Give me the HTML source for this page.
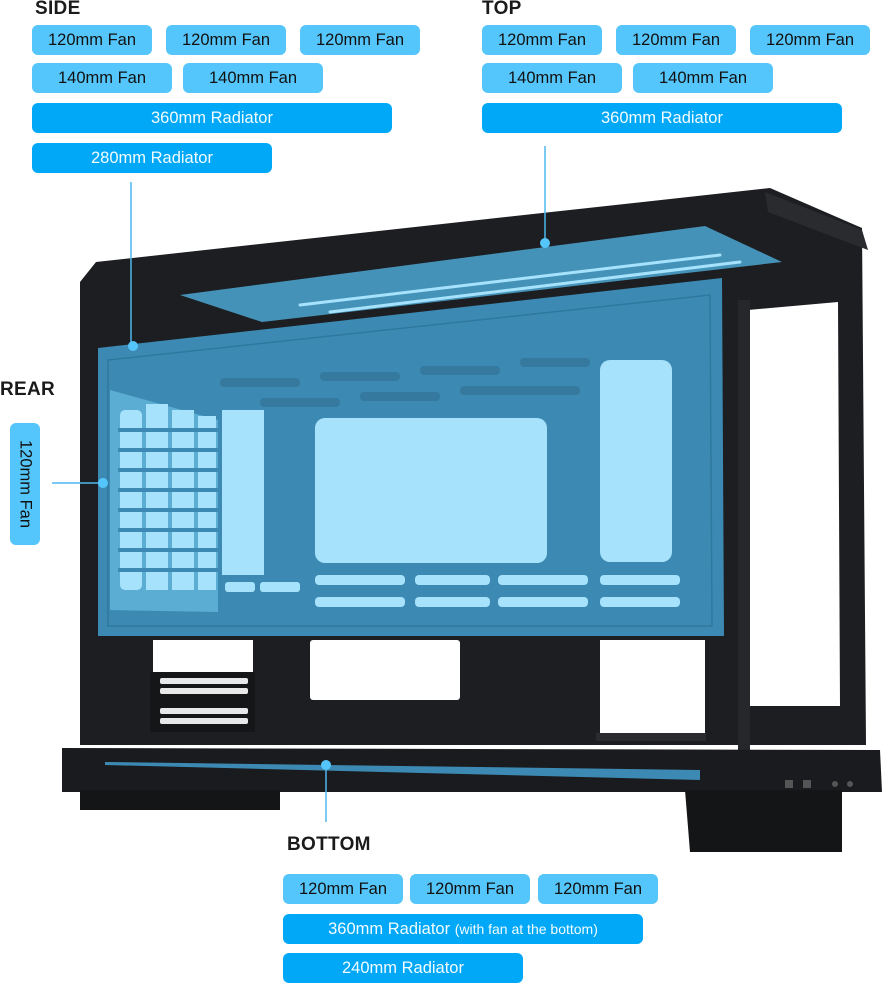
<!DOCTYPE html>
<html><head><meta charset="utf-8"><style>
body{margin:0;width:895px;height:984px;background:#fff;position:relative;overflow:hidden;font-family:"Liberation Sans",sans-serif}
.h{position:absolute;font-weight:bold;font-size:19px;color:#1a1a1a;letter-spacing:0.3px}
.p{position:absolute;height:30px;line-height:30px;border-radius:6px;text-align:center;font-size:16.5px;color:#111;background:#55c6fb}
.d{background:#00a8f7;color:#f2fbff}
svg{position:absolute;left:0;top:0}
</style></head><body>
<svg width="895" height="984" viewBox="0 0 895 984">
<!-- case body -->
<polygon points="80,282 96,262 770,188 862,228 866,745 80,745" fill="#1d1e21"/>
<polygon points="765,192 862,230 868,250 768,212" fill="#2a2b2e"/>
<!-- right window -->
<polygon points="748,310 838,302 840,706 748,706" fill="#fff"/>
<rect x="738" y="300" width="12" height="450" fill="#26272a"/>
<!-- lower openings -->
<rect x="310" y="640" width="150" height="60" rx="3" fill="#fff"/>
<rect x="600" y="640" width="105" height="95" fill="#fff"/>
<rect x="596" y="733" width="110" height="8" fill="#2a2b2e"/>
<rect x="153" y="640" width="100" height="35" fill="#fff"/>
<rect x="150" y="672" width="105" height="60" fill="#151618"/>
<g fill="#e8e8e8"><rect x="160" y="678" width="88" height="6" rx="2"/><rect x="160" y="688" width="88" height="6" rx="2"/><rect x="160" y="708" width="88" height="6" rx="2"/><rect x="160" y="718" width="88" height="6" rx="2"/></g>
<!-- top panel translucent -->
<polygon points="180,295 705,226 782,262 262,322" fill="#4a9fc9" opacity="0.9"/>
<g stroke="#a6e2fb" stroke-width="3" stroke-linecap="round"><line x1="300" y1="305" x2="720" y2="255"/><line x1="330" y1="312" x2="740" y2="262"/></g>
<!-- side panel -->
<polygon points="98,348 722,278 724,636 98,636" fill="#3c8ab3"/>
<polygon points="108,360 710,295 712,626 108,626" fill="none" stroke="#2f789f" stroke-width="1.5"/>
<rect x="315" y="418" width="232" height="145" rx="10" fill="#a6e2fb"/>
<rect x="600" y="360" width="72" height="202" rx="10" fill="#a6e2fb"/>
<rect x="222" y="410" width="42" height="165" fill="#a6e2fb"/>
<polygon points="110,390 218,420 218,612 110,610" fill="#5fb0d6" opacity="0.9"/>
<g fill="#a6e2fb">
<rect x="120" y="410" width="22" height="180" rx="5"/>
<rect x="146" y="404" width="22" height="186" />
<rect x="172" y="410" width="22" height="180"/>
<rect x="198" y="416" width="18" height="174"/>
<rect x="315" y="575" width="90" height="10" rx="4"/><rect x="415" y="575" width="75" height="10" rx="4"/><rect x="498" y="575" width="90" height="10" rx="4"/><rect x="600" y="575" width="80" height="10" rx="4"/>
<rect x="315" y="597" width="90" height="10" rx="4"/><rect x="415" y="597" width="75" height="10" rx="4"/><rect x="498" y="597" width="90" height="10" rx="4"/><rect x="600" y="597" width="80" height="10" rx="4"/>
<rect x="600" y="380" width="72" height="10" rx="4"/>
<rect x="225" y="582" width="30" height="10" rx="3"/><rect x="260" y="582" width="40" height="10" rx="3"/>
</g>
<g stroke="#3c8ab3" stroke-width="4"><line x1="118" y1="430" x2="218" y2="430"/><line x1="118" y1="450" x2="218" y2="450"/><line x1="118" y1="470" x2="218" y2="470"/><line x1="118" y1="490" x2="218" y2="490"/><line x1="118" y1="510" x2="218" y2="510"/><line x1="118" y1="530" x2="218" y2="530"/><line x1="118" y1="550" x2="218" y2="550"/><line x1="118" y1="570" x2="218" y2="570"/></g>
<g fill="#35799e"><rect x="220" y="378" width="80" height="9" rx="4"/><rect x="320" y="372" width="80" height="9" rx="4"/><rect x="420" y="366" width="80" height="9" rx="4"/><rect x="520" y="358" width="70" height="9" rx="4"/><rect x="260" y="398" width="80" height="9" rx="4"/><rect x="360" y="392" width="80" height="9" rx="4"/><rect x="460" y="386" width="120" height="9" rx="4"/></g>
<!-- base -->
<polygon points="62,748 880,750 882,792 62,792" fill="#1a1b1e"/>
<rect x="80" y="790" width="200" height="20" fill="#141517"/>
<polygon points="685,790 842,790 842,852 690,852" fill="#141517"/>
<polygon points="105,762 700,770 700,780 105,765" fill="#3c8ab3"/>
<g fill="#555"><rect x="785" y="780" width="8" height="8"/><rect x="803" y="780" width="8" height="8"/><circle cx="835" cy="784" r="3"/><circle cx="850" cy="784" r="3"/></g>
<!-- leaders -->
<g stroke="#4db8ee" stroke-width="1.5">
<line x1="131" y1="182" x2="131" y2="345"/>
<line x1="545" y1="146" x2="545" y2="243"/>
<line x1="52" y1="483" x2="103" y2="483"/>
<line x1="326" y1="765" x2="326" y2="822"/>
</g>
<g fill="#55c6fb"><circle cx="133" cy="346" r="5"/><circle cx="545" cy="243" r="5"/><circle cx="103" cy="483" r="5"/><circle cx="326" cy="765" r="5"/></g>
</svg>
<div class="h" style="left:35px;top:-2px">SIDE</div>
<div class="p" style="left:32px;top:25px;width:120px">120mm Fan</div>
<div class="p" style="left:166px;top:25px;width:120px">120mm Fan</div>
<div class="p" style="left:300px;top:25px;width:120px">120mm Fan</div>
<div class="p" style="left:32px;top:63px;width:140px">140mm Fan</div>
<div class="p" style="left:183px;top:63px;width:140px">140mm Fan</div>
<div class="p d" style="left:32px;top:103px;width:360px">360mm Radiator</div>
<div class="p d" style="left:32px;top:143px;width:240px">280mm Radiator</div>
<div class="h" style="left:482px;top:-2px">TOP</div>
<div class="p" style="left:482px;top:25px;width:120px">120mm Fan</div>
<div class="p" style="left:616px;top:25px;width:120px">120mm Fan</div>
<div class="p" style="left:750px;top:25px;width:120px">120mm Fan</div>
<div class="p" style="left:482px;top:63px;width:140px">140mm Fan</div>
<div class="p" style="left:633px;top:63px;width:140px">140mm Fan</div>
<div class="p d" style="left:482px;top:103px;width:360px">360mm Radiator</div>
<div class="h" style="left:0px;top:379px">REAR</div>
<div class="p" style="left:10px;top:423px;width:30px;height:122px;line-height:normal"><div style="position:absolute;left:15px;top:61px;transform:translate(-50%,-50%) rotate(90deg);white-space:nowrap">120mm Fan</div></div>
<div class="h" style="left:287px;top:834px">BOTTOM</div>
<div class="p" style="left:283px;top:874px;width:120px">120mm Fan</div>
<div class="p" style="left:410px;top:874px;width:120px">120mm Fan</div>
<div class="p" style="left:538px;top:874px;width:120px">120mm Fan</div>
<div class="p d" style="left:283px;top:914px;width:360px">360mm Radiator <span style="font-size:14px">(with fan at the bottom)</span></div>
<div class="p d" style="left:283px;top:953px;width:240px">240mm Radiator</div>
</body></html>
